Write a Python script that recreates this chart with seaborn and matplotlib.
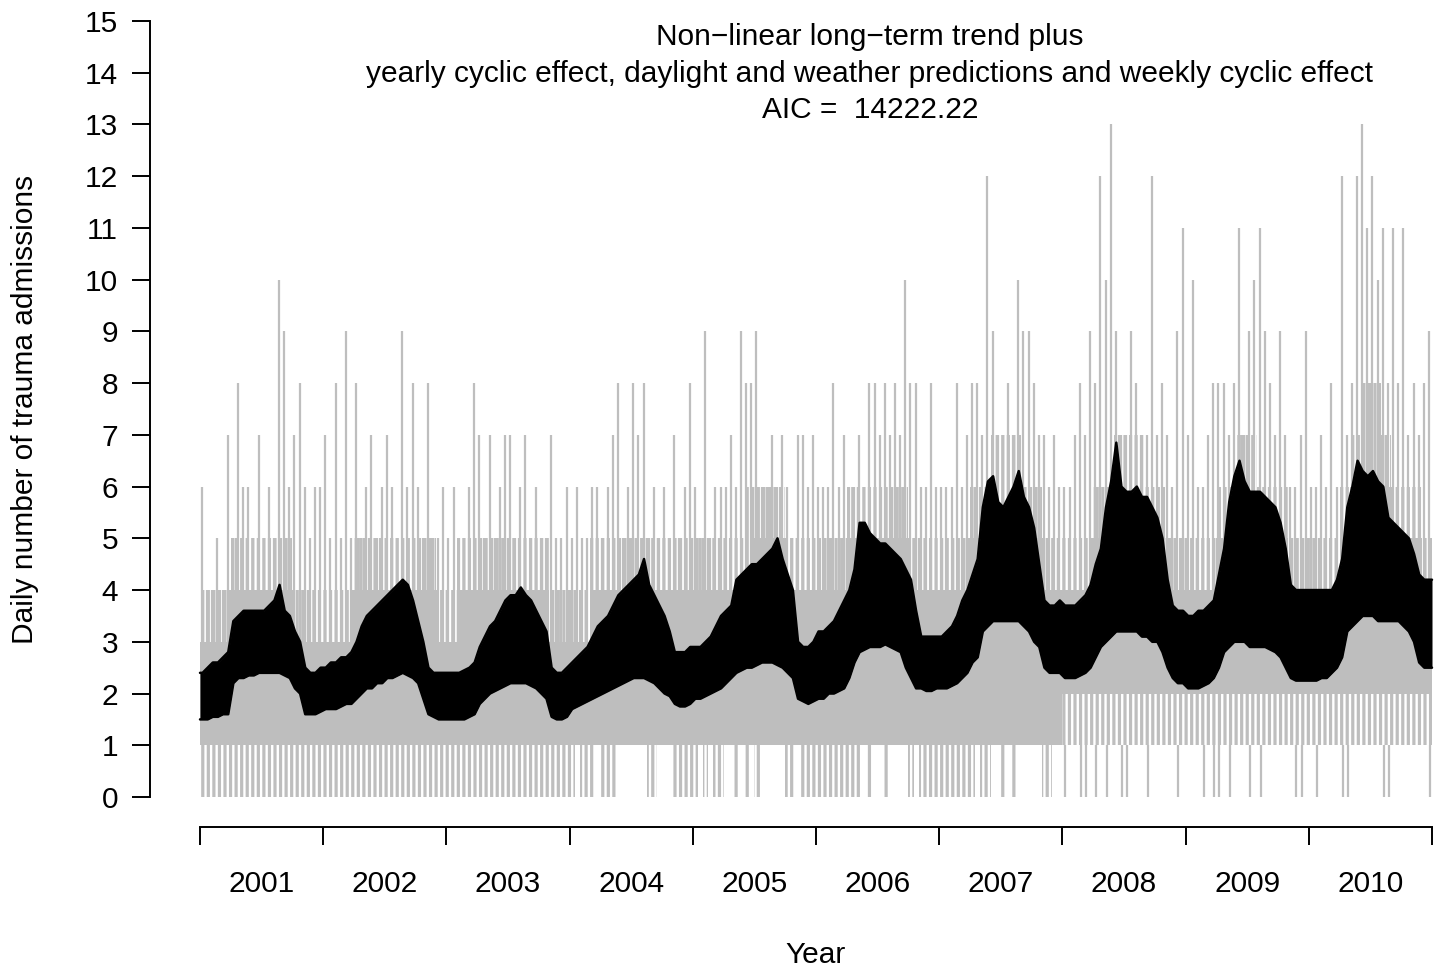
import numpy as np
import pandas as pd
import matplotlib
matplotlib.use("Agg")
import matplotlib.pyplot as plt
import seaborn as sns

# ---------------- data ----------------
years = list(range(2001, 2011))
year_labels = [str(y) for y in years]
y_ticks = list(range(0, 16))

title_lines = ["Non\u2212linear long\u2212term trend plus",
               "yearly cyclic effect, daylight and weather predictions and weekly cyclic effect",
               "AIC =  14222.22"]

# fitted daily values: lower / upper envelope per half-month (24 per year)
fit_lo = [
    1.5, 1.5, 1.55, 1.55, 1.6, 1.6, 2.2, 2.3, 2.3, 2.35, 2.35, 2.4, 2.4, 2.4, 2.4, 2.4, 2.35, 2.3, 2.1, 2.0, 1.6, 1.6, 1.6, 1.65,
    1.7, 1.7, 1.7, 1.75, 1.8, 1.8, 1.9, 2.0, 2.1, 2.1, 2.2, 2.2, 2.3, 2.3, 2.35, 2.4, 2.35, 2.3, 2.2, 1.9, 1.6, 1.55, 1.5, 1.5,
    1.5, 1.5, 1.5, 1.5, 1.55, 1.6, 1.8, 1.9, 2.0, 2.05, 2.1, 2.15, 2.2, 2.2, 2.2, 2.2, 2.15, 2.1, 2.0, 1.9, 1.55, 1.5, 1.5, 1.55,
    1.7, 1.75, 1.8, 1.85, 1.9, 1.95, 2.0, 2.05, 2.1, 2.15, 2.2, 2.25, 2.3, 2.3, 2.3, 2.25, 2.2, 2.1, 2.0, 1.95, 1.8, 1.75, 1.75, 1.8,
    1.9, 1.9, 1.95, 2.0, 2.05, 2.1, 2.2, 2.3, 2.4, 2.45, 2.5, 2.5, 2.55, 2.6, 2.6, 2.6, 2.55, 2.5, 2.4, 2.3, 1.9, 1.85, 1.8, 1.85,
    1.9, 1.9, 2.0, 2.0, 2.05, 2.1, 2.3, 2.6, 2.8, 2.85, 2.9, 2.9, 2.9, 2.95, 2.9, 2.85, 2.8, 2.5, 2.3, 2.1, 2.1, 2.05, 2.05, 2.1,
    2.1, 2.1, 2.15, 2.2, 2.3, 2.4, 2.6, 2.7, 3.2, 3.3, 3.4, 3.4, 3.4, 3.4, 3.4, 3.4, 3.3, 3.2, 3.0, 2.9, 2.5, 2.4, 2.4, 2.4,
    2.3, 2.3, 2.3, 2.35, 2.4, 2.5, 2.7, 2.9, 3.0, 3.1, 3.2, 3.2, 3.2, 3.2, 3.2, 3.1, 3.1, 3.0, 3.0, 2.8, 2.5, 2.3, 2.2, 2.2,
    2.1, 2.1, 2.1, 2.15, 2.2, 2.3, 2.5, 2.8, 2.9, 3.0, 3.0, 3.0, 2.9, 2.9, 2.9, 2.9, 2.85, 2.8, 2.7, 2.5, 2.3, 2.25, 2.25, 2.25,
    2.25, 2.25, 2.3, 2.3, 2.4, 2.5, 2.7, 3.2, 3.3, 3.4, 3.5, 3.5, 3.5, 3.4, 3.4, 3.4, 3.4, 3.4, 3.3, 3.2, 3.0, 2.6, 2.5, 2.5,
]
fit_hi = [
    2.4, 2.5, 2.6, 2.6, 2.7, 2.8, 3.4, 3.5, 3.6, 3.6, 3.6, 3.6, 3.6, 3.7, 3.8, 4.1, 3.6, 3.5, 3.2, 3.0, 2.5, 2.4, 2.4, 2.5,
    2.5, 2.6, 2.6, 2.7, 2.7, 2.8, 3.0, 3.3, 3.5, 3.6, 3.7, 3.8, 3.9, 4.0, 4.1, 4.2, 4.1, 3.8, 3.4, 3.0, 2.5, 2.4, 2.4, 2.4,
    2.4, 2.4, 2.4, 2.45, 2.5, 2.6, 2.9, 3.1, 3.3, 3.4, 3.6, 3.8, 3.9, 3.9, 4.05, 3.9, 3.8, 3.6, 3.4, 3.2, 2.5, 2.4, 2.4, 2.5,
    2.6, 2.7, 2.8, 2.9, 3.1, 3.3, 3.4, 3.5, 3.7, 3.9, 4.0, 4.1, 4.2, 4.3, 4.6, 4.1, 3.9, 3.7, 3.5, 3.2, 2.8, 2.8, 2.8, 2.9,
    2.9, 2.9, 3.0, 3.1, 3.3, 3.5, 3.6, 3.7, 4.2, 4.3, 4.4, 4.5, 4.5, 4.6, 4.7, 4.8, 5.0, 4.6, 4.3, 4.0, 3.0, 2.9, 2.9, 3.0,
    3.2, 3.2, 3.3, 3.4, 3.6, 3.8, 4.0, 4.4, 5.3, 5.3, 5.1, 5.0, 4.9, 4.9, 4.8, 4.7, 4.6, 4.4, 4.2, 3.6, 3.1, 3.1, 3.1, 3.1,
    3.1, 3.2, 3.3, 3.5, 3.8, 4.0, 4.3, 4.6, 5.6, 6.1, 6.2, 5.7, 5.6, 5.8, 6.0, 6.3, 5.8, 5.6, 5.2, 4.5, 3.8, 3.7, 3.7, 3.8,
    3.7, 3.7, 3.7, 3.8, 3.9, 4.1, 4.5, 4.8, 5.6, 6.1, 6.85, 6.0, 5.9, 5.9, 6.0, 5.8, 5.8, 5.6, 5.4, 5.0, 4.2, 3.7, 3.6, 3.6,
    3.5, 3.5, 3.6, 3.6, 3.7, 3.8, 4.3, 4.8, 5.7, 6.2, 6.5, 6.1, 5.9, 5.9, 5.9, 5.8, 5.7, 5.6, 5.3, 4.8, 4.1, 4.0, 4.0, 4.0,
    4.0, 4.0, 4.0, 4.0, 4.0, 4.2, 4.6, 5.6, 6.0, 6.5, 6.3, 6.2, 6.3, 6.1, 6.0, 5.4, 5.3, 5.2, 5.1, 5.0, 4.7, 4.3, 4.2, 4.2,
]

# observed daily counts: solidly filled band per month (12 per year)
obs_core_lo = [1] * 84 + [2] * 36
obs_core_hi = [
    3, 3, 3, 4, 4, 4, 4, 4, 4, 3, 3, 3,
    3, 3, 3, 4, 4, 4, 4, 4, 4, 4, 4, 3,
    3, 4, 4, 4, 4, 4, 4, 4, 4, 4, 3, 3,
    3, 3, 4, 4, 4, 4, 4, 4, 4, 4, 4, 4,
    4, 4, 4, 4, 4, 4, 5, 5, 5, 4, 4, 4,
    4, 4, 4, 5, 5, 5, 5, 5, 5, 4, 4, 4,
    4, 4, 4, 5, 5, 5, 5, 5, 5, 5, 4, 4,
    4, 4, 4, 5, 5, 5, 5, 5, 5, 5, 4, 4,
    4, 4, 4, 5, 5, 5, 5, 5, 5, 5, 4, 4,
    4, 4, 4, 5, 6, 6, 6, 6, 5, 5, 5, 4,
]
# level that observed counts reach frequently each month (densely striped zone)
obs_upper = [
    4, 4, 4, 5, 5, 5, 5, 5, 5, 4, 4, 4,
    4, 4, 4, 5, 5, 5, 5, 5, 5, 5, 5, 4,
    4, 5, 5, 5, 5, 5, 5, 5, 5, 5, 4, 4,
    4, 4, 5, 5, 5, 5, 5, 5, 5, 5, 5, 5,
    5, 5, 5, 5, 5, 6, 6, 6, 6, 5, 5, 5,
    5, 5, 5, 6, 6, 6, 6, 6, 6, 5, 5, 5,
    5, 5, 5, 6, 6, 7, 7, 7, 6, 6, 5, 5,
    5, 5, 5, 6, 6, 7, 7, 7, 6, 6, 5, 5,
    5, 5, 5, 6, 6, 7, 7, 6, 6, 6, 5, 5,
    5, 5, 5, 6, 7, 8, 8, 7, 6, 6, 6, 5,
]
# observed maximum and minimum per half-month (24 per year)
obs_max = [
    6, 4, 4, 5, 4, 7, 5, 8, 6, 6, 5, 7, 5, 6, 5, 10, 9, 6, 7, 8, 6, 5, 6, 6,
    7, 5, 8, 5, 9, 5, 8, 5, 6, 7, 5, 6, 7, 6, 5, 9, 6, 8, 6, 5, 8, 5, 5, 6,
    5, 6, 5, 5, 6, 8, 7, 5, 7, 5, 6, 7, 7, 5, 6, 7, 5, 6, 5, 5, 7, 5, 5, 6,
    5, 6, 5, 5, 6, 6, 5, 6, 7, 8, 5, 6, 8, 7, 8, 5, 6, 5, 6, 5, 7, 5, 6, 8,
    6, 5, 9, 5, 6, 6, 6, 7, 6, 9, 8, 8, 9, 6, 6, 7, 6, 7, 6, 5, 7, 7, 6, 7,
    6, 6, 6, 8, 6, 7, 6, 6, 7, 6, 8, 8, 7, 8, 7, 8, 7, 10, 8, 8, 6, 6, 8, 6,
    6, 6, 6, 8, 6, 7, 8, 8, 7, 12, 9, 7, 7, 8, 7, 10, 9, 9, 8, 7, 7, 6, 7, 6,
    6, 6, 7, 8, 7, 9, 8, 12, 10, 13, 9, 7, 7, 9, 8, 7, 7, 12, 7, 8, 7, 6, 9, 11,
    7, 10, 6, 6, 7, 8, 8, 8, 7, 8, 11, 7, 9, 10, 11, 9, 8, 7, 9, 7, 6, 6, 7, 9,
    6, 6, 7, 6, 8, 6, 12, 7, 8, 12, 13, 11, 12, 10, 11, 8, 11, 8, 11, 7, 8, 7, 8, 9,
]
obs_min = (
    [0] * 72 +
    [0, 1, 0, 0, 0, 1, 0, 0, 0, 1, 1, 1, 1, 1, 1, 0, 0, 1, 1, 1, 0, 0, 0, 0] +
    [0, 1, 0, 1, 0, 0, 1, 1, 0, 1, 0, 1, 0, 1, 1, 1, 1, 1, 0, 0, 1, 0, 0, 0] +
    [0, 0, 0, 0, 0, 0, 0, 0, 0, 1, 0, 1, 1, 0, 1, 1, 1, 1, 0, 1, 0, 0, 0, 0] +
    [0, 0, 0, 0, 0, 0, 0, 1, 0, 0, 1, 1, 0, 1, 0, 1, 1, 1, 1, 1, 0, 0, 1, 1] +
    [0, 1, 1, 0, 0, 1, 0, 1, 0, 1, 1, 0, 0, 1, 1, 1, 0, 1, 1, 1, 1, 1, 0, 1] +
    [1, 1, 1, 0, 1, 0, 0, 1, 0, 1, 1, 1, 0, 1, 0, 1, 1, 1, 1, 1, 1, 0, 0, 1] +
    [1, 0, 1, 1, 1, 1, 0, 0, 1, 1, 1, 1, 1, 1, 0, 0, 1, 1, 1, 1, 1, 1, 1, 0]
)

# ---------------- figure ----------------
sns.set_theme(style="white")
plt.rcParams["font.family"] = ["Liberation Sans", "DejaVu Sans"]
plt.rcParams.update({"text.color": "black", "xtick.color": "black", "ytick.color": "black",
                     "axes.labelcolor": "black", "hatch.linewidth": 2.3})
FS = 21.5
GRAY = "#BEBEBE"

W, H = 1441, 969
fig = plt.figure(figsize=(W / 100, H / 100), dpi=100)
ax = fig.add_axes([150 / W, (H - 827) / H, (W - 150) / W, (827 - 10) / H])
px_per_year = 123.2
px_per_unit = 51.73
ax.set_xlim(2001 - 50 / px_per_year, 2011 + 9 / px_per_year)
ax.set_ylim(-30 / px_per_unit, 15 + 11 / px_per_unit)

n_half = len(fit_lo)
half = pd.DataFrame({
    "start": 2001 + np.arange(n_half) / 24.0,
    "fit_lo": fit_lo, "fit_hi": fit_hi,
    "obs_max": obs_max, "obs_min": obs_min,
    "core_lo": np.repeat(obs_core_lo, 2), "core_hi": np.repeat(obs_core_hi, 2),
})
half["mid"] = half["start"] + 1 / 48.0

# solid core of the observed series (monthly steps)
t_month = 2001 + np.arange(len(obs_core_lo) + 1) / 12.0
ext = lambda a: list(a) + [a[-1]]
ax.fill_between(t_month, ext(obs_core_lo), ext(obs_core_hi), step="post",
                color=GRAY, lw=0, zorder=1)
# densely striped zone above the core
ax.fill_between(t_month, ext(obs_core_hi), ext(obs_upper), step="post",
                facecolor="none", edgecolor=GRAY, hatch="|||", lw=0, zorder=1)
# densely striped zone below the core (one unit down where that level is reached)
t_half = 2001 + np.arange(n_half + 1) / 24.0
low_reach = np.maximum(half["obs_min"].values, half["core_lo"].values - 1)
ax.fill_between(t_half, ext(low_reach), ext(half["core_lo"].values), step="post",
                facecolor="none", edgecolor=GRAY, hatch="|||", lw=0, zorder=1)
# deeper dips (to zero when the core starts at 2)
deep = half[half["obs_min"] < half["core_lo"] - 1]
ax.vlines(deep["start"] + 0.6 / 24, deep["obs_min"], deep["core_lo"] - 1, color=GRAY, lw=1.6, zorder=1)
# upward spikes
up = half[half["obs_max"] > half["core_hi"]]
ax.vlines(up["start"] + 0.4 / 24, up["core_hi"], up["obs_max"], color=GRAY, lw=1.6, zorder=1)

# fitted values (black band)
xf = np.r_[2001.0, half["mid"].values, 2011.0]
lo = np.r_[fit_lo[0], fit_lo, fit_lo[-1]]
hi = np.r_[fit_hi[0], fit_hi, fit_hi[-1]]
ax.fill_between(xf, lo, hi, color="black", lw=0, zorder=3)
fit_long = pd.DataFrame({"t": np.r_[xf, xf], "v": np.r_[lo, hi],
                         "edge": ["lo"] * len(xf) + ["hi"] * len(xf)})
sns.lineplot(data=fit_long, x="t", y="v", units="edge", estimator=None, sort=False,
             color="black", lw=1.8, ax=ax, zorder=4, legend=False)

# ---------------- axes styling (R base graphics look) ----------------
for s in ["top", "right"]:
    ax.spines[s].set_visible(False)
ax.spines["left"].set_bounds(0, 15)
ax.spines["bottom"].set_bounds(2001, 2011)
for s in ["left", "bottom"]:
    ax.spines[s].set_linewidth(1.4)
    ax.spines[s].set_color("black")

ax.set_yticks(y_ticks)
ax.set_yticklabels([str(v) for v in y_ticks], fontsize=FS)
ax.tick_params(axis="y", direction="out", length=13, width=1.4, pad=10, left=True, colors="black")

ax.set_xticks(list(range(2001, 2012)))
ax.set_xticklabels([""] * 11)
ax.set_xticks([y + 0.5 for y in years], minor=True)
ax.set_xticklabels(year_labels, minor=True, fontsize=FS)
ax.tick_params(axis="x", which="major", direction="out", length=13, width=1.4, bottom=True, colors="black")
ax.tick_params(axis="x", which="minor", length=0, pad=31, bottom=True, colors="black")
ax.set_xlabel("")
ax.set_ylabel("")
ax.grid(False)
ax.set_facecolor("white")

for i, line in enumerate(title_lines):
    fig.text(870 / W, 1 - (37 + 36.5 * i) / H, line, ha="center", va="center", fontsize=FS, color="black")
fig.text(25 / W, 1 - 409 / H, "Daily number of trauma admissions", rotation=90,
         ha="center", va="center", fontsize=FS, color="black")
fig.text(816 / W, 1 - 955 / H, "Year", ha="center", va="center", fontsize=FS, color="black")

fig.savefig("out.png", dpi=100, facecolor="white")
